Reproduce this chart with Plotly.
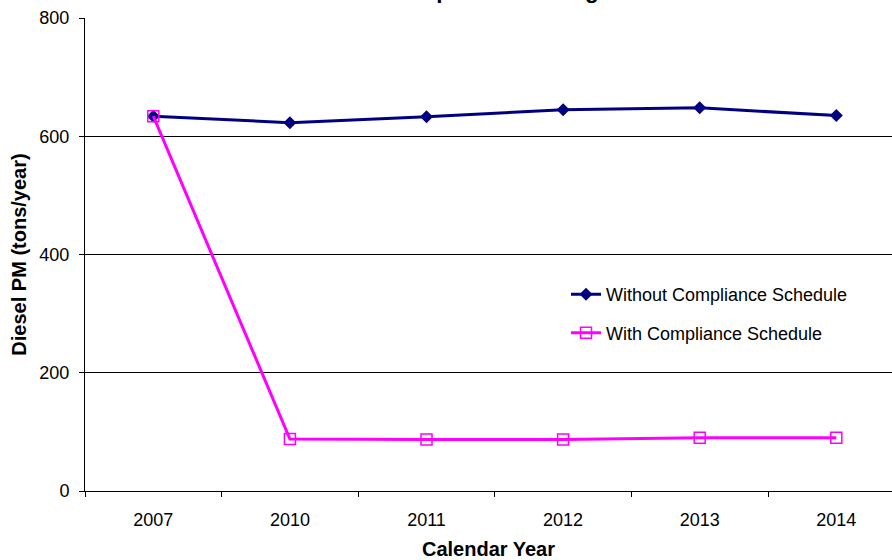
import plotly.graph_objects as go

# Calendar years and diesel PM emissions (tons/year)
years = ["2007", "2010", "2011", "2012", "2013", "2014"]
without_schedule = [634, 623, 633, 645, 648, 635]
with_schedule = [634, 88, 87, 87, 90, 90]

series_names = ["Without Compliance Schedule", "With Compliance Schedule"]
y_ticks = [0, 200, 400, 600, 800]

FONT = "Arial, Liberation Sans, sans-serif"

fig = go.Figure()

fig.add_trace(go.Scatter(
    x=years, y=without_schedule, name=series_names[0],
    mode="lines+markers",
    line=dict(color="#000080", width=3),
    marker=dict(symbol="diamond", size=10, color="#000080"),
    legendgroup="a",
))
fig.add_trace(go.Scatter(
    x=years, y=with_schedule, name=series_names[1],
    mode="lines+markers",
    line=dict(color="#FF00FF", width=3),
    marker=dict(symbol="square-open", size=11, color="#FF00FF",
                line=dict(width=1.5, color="#FF00FF")),
    legendgroup="b",
))

fig.update_layout(
    width=892, height=560,
    margin=dict(l=85, r=0, t=18, b=69),
    paper_bgcolor="white", plot_bgcolor="white",
    font=dict(family=FONT, color="black", size=18),
    legend=dict(
        x=(566 - 85) / 807, y=0.375, xanchor="left", yanchor="middle",
        font=dict(family=FONT, size=18, color="black"),
        traceorder="grouped", tracegroupgap=12,
        bgcolor="rgba(0,0,0,0)",
    ),
    showlegend=True,
)

# Chart title sits above the top edge of the page; only its descenders show
fig.add_annotation(
    text="<b>Impact of the Regulation</b>",
    font=dict(family=FONT, size=22.5, color="black"),
    xref="paper", x=(408 - 85) / 807, xanchor="left",
    yref="paper", y=1.028, yanchor="bottom",
    showarrow=False,
)

fig.update_xaxes(
    type="category",
    range=[-0.5, -0.5 + 807 / 136.6],
    tickson="boundaries",
    ticks="outside", ticklen=5, tickcolor="black",
    ticklabelstandoff=12,
    showline=True, linecolor="black", linewidth=1,
    showgrid=False, zeroline=False,
    tickfont=dict(family=FONT, size=18, color="black"),
    title=dict(text="<b>Calendar Year</b>", standoff=17,
               font=dict(family=FONT, size=20, color="black")),
)

fig.update_yaxes(
    range=[0, 800], tickvals=y_ticks,
    ticks="outside", ticklen=5, tickcolor="black",
    ticklabelstandoff=6,
    showline=True, linecolor="black", linewidth=1,
    showgrid=True, gridcolor="black", gridwidth=1,
    zeroline=False,
    tickfont=dict(family=FONT, size=18, color="black"),
    title=dict(text="<b>Diesel PM (tons/year)</b>", standoff=7,
               font=dict(family=FONT, size=20, color="black")),
)

fig.write_html("out.html")
